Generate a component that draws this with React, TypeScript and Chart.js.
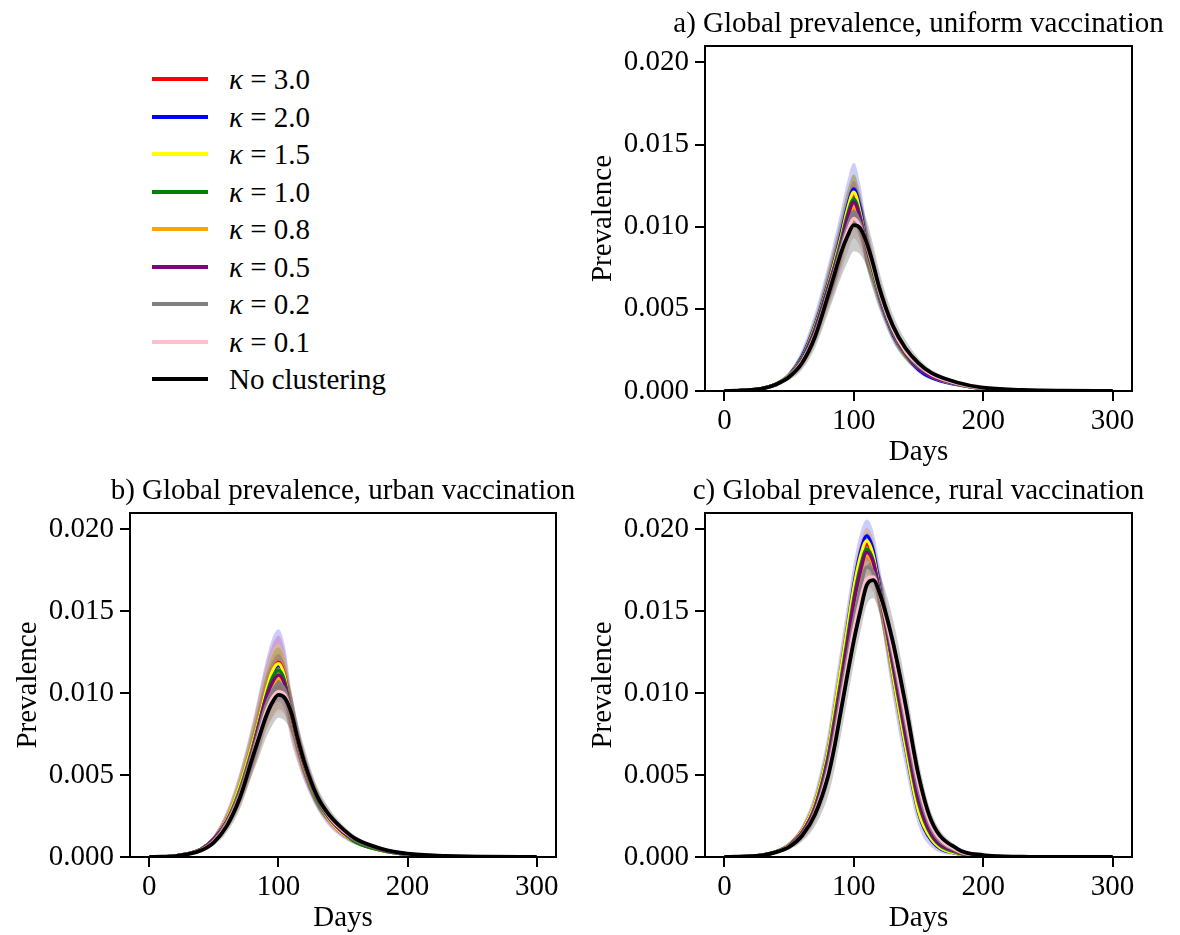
import React, { useEffect, useRef } from "react";
import { Chart, registerables } from "chart.js";

Chart.register(...registerables);

// ---------- data ----------
const DAYS = [0, 10, 20, 30, 40, 50, 60, 70, 80, 85, 90, 95, 100, 105, 110, 115, 120, 130, 140, 150, 160, 180, 200, 230, 260, 300];
const X_TICKS = [0, 100, 200, 300];
const Y_TICKS = [0, 0.005, 0.01, 0.015, 0.02];
const LEGEND_LABELS = ["κ = 3.0", "κ = 2.0", "κ = 1.5", "κ = 1.0", "κ = 0.8", "κ = 0.5", "κ = 0.2", "κ = 0.1", "No clustering"];
const SERIES_COLORS = ["#ff0000", "#0000ff", "#ffff00", "#008000", "#ffa500", "#800080", "#808080", "#ffc0cb", "#000000"];
const BAND_COLORS = [
  "rgba(255,0,0,0.2)", "rgba(0,0,255,0.2)", "rgba(255,255,0,0.2)", "rgba(0,128,0,0.2)", "rgba(255,165,0,0.2)",
  "rgba(128,0,128,0.2)", "rgba(128,128,128,0.2)", "rgba(255,192,203,0.2)", "rgba(0,0,0,0.2)",
];
const PANEL_TITLES = [
  "a) Global prevalence, uniform vaccination",
  "b) Global prevalence, urban vaccination",
  "c) Global prevalence, rural vaccination",
];

// Panel a – uniform vaccination (means)
const A_RED = [0.00001, 0.00002, 0.00006, 0.00017, 0.00042, 0.00095, 0.002, 0.0038, 0.0063, 0.0077, 0.0092, 0.0108, 0.0118, 0.0107, 0.0087, 0.0072, 0.0058, 0.0036, 0.0022, 0.0014, 0.0009, 0.0004, 0.00015, 0.00004, 0.00001, 0];
const A_BLUE = [0.00001, 0.00002, 0.00006, 0.00017, 0.00043, 0.00098, 0.0021, 0.004, 0.0065, 0.0079, 0.0095, 0.0112, 0.0123, 0.0111, 0.0088, 0.0071, 0.0057, 0.0035, 0.0022, 0.0013, 0.0008, 0.00038, 0.00014, 0.00004, 0.00001, 0];
const A_YELLOW = [0.00001, 0.00002, 0.00006, 0.00017, 0.00043, 0.00097, 0.002, 0.0039, 0.0064, 0.0078, 0.0093, 0.011, 0.0121, 0.0108, 0.0087, 0.0071, 0.0058, 0.0036, 0.0022, 0.0014, 0.0009, 0.0004, 0.00015, 0.00004, 0.00001, 0];
const A_GREEN = [0.00001, 0.00002, 0.00006, 0.00017, 0.00042, 0.00094, 0.002, 0.0038, 0.0063, 0.0076, 0.0091, 0.0107, 0.0117, 0.0106, 0.0087, 0.0072, 0.0058, 0.0036, 0.0022, 0.0014, 0.0009, 0.0004, 0.00015, 0.00004, 0.00001, 0];
const A_ORANGE = [0.00001, 0.00002, 0.00006, 0.00016, 0.00041, 0.0009, 0.0019, 0.0036, 0.0061, 0.0074, 0.0088, 0.0103, 0.0112, 0.0104, 0.0088, 0.0074, 0.0059, 0.0037, 0.0023, 0.0015, 0.0009, 0.00043, 0.00016, 0.00005, 0.00001, 0];
const A_PURPLE = [0.00001, 0.00002, 0.00006, 0.00016, 0.00041, 0.00092, 0.0019, 0.0037, 0.0062, 0.0075, 0.0089, 0.0105, 0.0115, 0.0105, 0.0087, 0.0073, 0.0059, 0.0037, 0.0023, 0.0014, 0.0009, 0.00042, 0.00016, 0.00005, 0.00001, 0];
const A_GRAY = [0.00001, 0.00002, 0.00006, 0.00016, 0.0004, 0.0009, 0.0018, 0.0035, 0.006, 0.0073, 0.0087, 0.01, 0.0109, 0.0102, 0.0088, 0.0074, 0.006, 0.0038, 0.0024, 0.0015, 0.001, 0.00045, 0.00017, 0.00005, 0.00001, 0];
const A_PINK = [0.00001, 0.00002, 0.00006, 0.00016, 0.0004, 0.00088, 0.0018, 0.0034, 0.0059, 0.0072, 0.0085, 0.0097, 0.0105, 0.01, 0.0089, 0.0075, 0.006, 0.0038, 0.0024, 0.0016, 0.001, 0.00046, 0.00018, 0.00006, 0.00002, 0];
const A_BLACK = [0.00001, 0.00002, 0.00006, 0.00016, 0.0004, 0.00085, 0.0017, 0.0033, 0.0058, 0.0071, 0.0084, 0.0094, 0.0101, 0.0099, 0.009, 0.0077, 0.0062, 0.004, 0.0026, 0.0017, 0.0011, 0.00052, 0.0002, 0.00007, 0.00002, 0];

// Panel a – band half-widths
const A_RED_SD = [0, 0, 0.00001, 0.00003, 0.00008, 0.00017, 0.0004, 0.0007, 0.001, 0.0012, 0.0013, 0.0014, 0.0014, 0.0013, 0.0011, 0.0009, 0.0007, 0.0005, 0.0003, 0.0002, 0.00012, 0.00006, 0.00002, 0.00001, 0, 0];
const A_BLUE_SD = [0, 0, 0.00001, 0.00003, 0.00009, 0.0002, 0.00045, 0.0008, 0.0012, 0.0014, 0.0015, 0.0016, 0.0016, 0.0015, 0.0013, 0.001, 0.0008, 0.0005, 0.0003, 0.0002, 0.00012, 0.00006, 0.00002, 0.00001, 0, 0];
const A_YELLOW_SD = [0, 0, 0.00001, 0.00002, 0.00006, 0.00014, 0.0003, 0.0006, 0.0008, 0.001, 0.0011, 0.0012, 0.0012, 0.0011, 0.001, 0.0008, 0.0006, 0.0004, 0.00025, 0.00015, 0.0001, 0.00005, 0.00002, 0.00001, 0, 0];
const A_GREEN_SD = [0, 0, 0.00001, 0.00003, 0.00008, 0.00018, 0.0004, 0.0007, 0.0011, 0.0013, 0.0014, 0.0015, 0.0015, 0.0014, 0.0012, 0.001, 0.0008, 0.0005, 0.0003, 0.0002, 0.00012, 0.00006, 0.00002, 0.00001, 0, 0];
const A_ORANGE_SD = [0, 0, 0.00001, 0.00003, 0.00008, 0.00017, 0.0004, 0.0007, 0.001, 0.0012, 0.0013, 0.0014, 0.0014, 0.0013, 0.0011, 0.0009, 0.0007, 0.0005, 0.0003, 0.0002, 0.00012, 0.00006, 0.00002, 0.00001, 0, 0];
const A_PURPLE_SD = [0, 0, 0.00001, 0.00003, 0.00007, 0.00016, 0.00035, 0.0006, 0.0009, 0.0011, 0.0012, 0.0013, 0.0013, 0.0012, 0.001, 0.0008, 0.0007, 0.0005, 0.0003, 0.0002, 0.00012, 0.00006, 0.00002, 0.00001, 0, 0];
const A_GRAY_SD = [0, 0, 0.00001, 0.00003, 0.00008, 0.00018, 0.0004, 0.0007, 0.0011, 0.0013, 0.0015, 0.0016, 0.0016, 0.0015, 0.0013, 0.0011, 0.0009, 0.0006, 0.0004, 0.00025, 0.00015, 0.00007, 0.00003, 0.00001, 0, 0];
const A_PINK_SD = [0, 0, 0.00001, 0.00002, 0.00006, 0.00014, 0.0003, 0.0006, 0.0009, 0.001, 0.0011, 0.0012, 0.0012, 0.0011, 0.001, 0.0009, 0.0007, 0.0005, 0.0003, 0.0002, 0.00012, 0.00006, 0.00002, 0.00001, 0, 0];
const A_BLACK_SD = [0, 0, 0.00001, 0.00003, 0.00008, 0.00018, 0.0004, 0.0007, 0.0011, 0.0013, 0.0015, 0.0016, 0.0016, 0.0016, 0.0014, 0.0012, 0.001, 0.0007, 0.0005, 0.0003, 0.0002, 0.00008, 0.00003, 0.00001, 0, 0];

// Panel b – urban vaccination (means)
const B_RED = [0.00001, 0.00002, 0.00007, 0.0002, 0.00048, 0.0011, 0.0023, 0.0042, 0.0068, 0.0084, 0.01, 0.0113, 0.0119, 0.011, 0.0086, 0.0069, 0.0055, 0.0035, 0.0022, 0.0014, 0.0009, 0.0004, 0.00015, 0.00004, 0.00001, 0];
const B_BLUE = [0.00001, 0.00002, 0.00007, 0.0002, 0.00048, 0.0011, 0.0023, 0.0042, 0.0068, 0.0083, 0.0099, 0.0112, 0.0117, 0.0109, 0.0086, 0.0069, 0.0055, 0.0035, 0.0022, 0.0014, 0.0009, 0.0004, 0.00015, 0.00004, 0.00001, 0];
const B_YELLOW = [0.00001, 0.00002, 0.00007, 0.0002, 0.00049, 0.0011, 0.0023, 0.0043, 0.0069, 0.0084, 0.01, 0.0113, 0.0118, 0.0109, 0.0086, 0.0069, 0.0055, 0.0035, 0.0022, 0.0014, 0.0009, 0.0004, 0.00015, 0.00004, 0.00001, 0];
const B_GREEN = [0.00001, 0.00002, 0.00007, 0.0002, 0.00047, 0.0011, 0.0022, 0.0041, 0.0067, 0.0082, 0.0097, 0.0109, 0.0114, 0.0107, 0.0087, 0.007, 0.0056, 0.0035, 0.0023, 0.0015, 0.0009, 0.0004, 0.00016, 0.00005, 0.00001, 0];
const B_ORANGE = [0.00001, 0.00002, 0.00007, 0.0002, 0.00046, 0.0011, 0.0022, 0.004, 0.0066, 0.008, 0.0094, 0.0104, 0.0109, 0.0104, 0.0087, 0.007, 0.0056, 0.0036, 0.0023, 0.0015, 0.001, 0.00045, 0.00017, 0.00005, 0.00001, 0];
const B_PURPLE = [0.00001, 0.00002, 0.00007, 0.0002, 0.00046, 0.0011, 0.0022, 0.004, 0.0066, 0.0081, 0.0096, 0.0106, 0.0111, 0.0105, 0.0087, 0.007, 0.0056, 0.0036, 0.0023, 0.0015, 0.001, 0.00045, 0.00017, 0.00005, 0.00001, 0];
const B_GRAY = [0.00001, 0.00002, 0.00006, 0.00019, 0.00044, 0.001, 0.0021, 0.0039, 0.0064, 0.0078, 0.0092, 0.0101, 0.0106, 0.0102, 0.0088, 0.0071, 0.0057, 0.0036, 0.0024, 0.0016, 0.001, 0.00047, 0.00018, 0.00006, 0.00001, 0];
const B_PINK = [0.00001, 0.00002, 0.00006, 0.00019, 0.00042, 0.00095, 0.002, 0.0037, 0.0062, 0.0075, 0.0088, 0.0097, 0.0101, 0.0099, 0.0088, 0.0072, 0.0058, 0.0037, 0.0024, 0.0016, 0.0011, 0.00049, 0.00019, 0.00006, 0.00002, 0];
const B_BLACK = [0.00001, 0.00002, 0.00006, 0.00018, 0.0004, 0.0009, 0.0019, 0.0036, 0.0061, 0.0073, 0.0085, 0.0094, 0.0099, 0.0097, 0.0088, 0.0072, 0.0058, 0.0037, 0.0025, 0.0017, 0.0011, 0.0005, 0.0002, 0.00007, 0.00002, 0];

// Panel b – band half-widths
const B_RED_SD = [0, 0, 0.00001, 0.00004, 0.0001, 0.00022, 0.0005, 0.0009, 0.0013, 0.0015, 0.0016, 0.0016, 0.0016, 0.0015, 0.0013, 0.001, 0.0008, 0.0005, 0.0003, 0.0002, 0.00012, 0.00006, 0.00002, 0.00001, 0, 0];
const B_BLUE_SD = [0, 0, 0.00001, 0.00004, 0.00011, 0.00025, 0.00055, 0.001, 0.0015, 0.0018, 0.002, 0.0021, 0.0022, 0.002, 0.0016, 0.0012, 0.0009, 0.0006, 0.0004, 0.00025, 0.00015, 0.00007, 0.00003, 0.00001, 0, 0];
const B_YELLOW_SD = [0, 0, 0.00001, 0.00003, 0.00008, 0.00017, 0.0004, 0.0007, 0.001, 0.0011, 0.0012, 0.0012, 0.0012, 0.0011, 0.001, 0.0008, 0.0006, 0.0004, 0.00025, 0.00015, 0.0001, 0.00005, 0.00002, 0.00001, 0, 0];
const B_GREEN_SD = [0, 0, 0.00001, 0.00004, 0.0001, 0.0002, 0.00045, 0.0008, 0.0012, 0.0013, 0.0014, 0.0014, 0.0014, 0.0013, 0.0011, 0.0009, 0.0007, 0.0005, 0.0003, 0.0002, 0.00012, 0.00006, 0.00002, 0.00001, 0, 0];
const B_ORANGE_SD = [0, 0, 0.00001, 0.00004, 0.00011, 0.00024, 0.00055, 0.001, 0.0015, 0.0017, 0.0018, 0.0019, 0.0019, 0.0017, 0.0014, 0.0011, 0.0008, 0.0005, 0.0003, 0.0002, 0.00012, 0.00006, 0.00002, 0.00001, 0, 0];
const B_PURPLE_SD = [0, 0, 0.00001, 0.00003, 0.00008, 0.00018, 0.0004, 0.0007, 0.001, 0.0012, 0.0013, 0.0013, 0.0013, 0.0012, 0.001, 0.0008, 0.0007, 0.0005, 0.0003, 0.0002, 0.00012, 0.00006, 0.00002, 0.00001, 0, 0];
const B_GRAY_SD = [0, 0, 0.00001, 0.00004, 0.0001, 0.0002, 0.00045, 0.0008, 0.0012, 0.0014, 0.0015, 0.0016, 0.0016, 0.0015, 0.0013, 0.001, 0.0008, 0.0006, 0.0004, 0.00025, 0.00015, 0.00007, 0.00003, 0.00001, 0, 0];
const B_PINK_SD = [0, 0, 0.00001, 0.00003, 0.00008, 0.00018, 0.0004, 0.0007, 0.001, 0.0011, 0.0012, 0.0013, 0.0013, 0.0012, 0.0011, 0.0009, 0.0007, 0.0005, 0.0003, 0.0002, 0.00012, 0.00006, 0.00002, 0.00001, 0, 0];
const B_BLACK_SD = [0, 0, 0.00001, 0.00003, 0.00008, 0.00018, 0.0004, 0.0007, 0.001, 0.0012, 0.0013, 0.0014, 0.0014, 0.0014, 0.0012, 0.001, 0.0009, 0.0006, 0.0004, 0.00025, 0.00015, 0.00007, 0.00003, 0.00001, 0, 0];

// Panel c – rural vaccination (means)
const C_RED = [0.00001, 0.00002, 0.00005, 0.00013, 0.00032, 0.00074, 0.0016, 0.0032, 0.0063, 0.0087, 0.0112, 0.0137, 0.0162, 0.0181, 0.0191, 0.0183, 0.0162, 0.0115, 0.007, 0.003, 0.0012, 0.00023, 0.00005, 0.00001, 0, 0];
const C_BLUE = [0.00001, 0.00002, 0.00005, 0.00013, 0.00032, 0.00075, 0.0016, 0.0033, 0.0064, 0.0089, 0.0114, 0.014, 0.0166, 0.0186, 0.0196, 0.0187, 0.0164, 0.0113, 0.0067, 0.0027, 0.001, 0.0002, 0.00005, 0.00001, 0, 0];
const C_YELLOW = [0.00001, 0.00002, 0.00005, 0.00013, 0.00032, 0.00075, 0.0016, 0.0033, 0.0064, 0.0089, 0.0114, 0.0139, 0.0164, 0.0183, 0.0193, 0.0184, 0.0162, 0.0113, 0.0068, 0.0028, 0.0011, 0.0002, 0.00005, 0.00001, 0, 0];
const C_GREEN = [0.00001, 0.00002, 0.00005, 0.00013, 0.00032, 0.00072, 0.0015, 0.0031, 0.0061, 0.0084, 0.0108, 0.0133, 0.0158, 0.0177, 0.0188, 0.0181, 0.0161, 0.0117, 0.0073, 0.0033, 0.0013, 0.00025, 0.00006, 0.00001, 0, 0];
const C_ORANGE = [0.00001, 0.00002, 0.00005, 0.00013, 0.00031, 0.0007, 0.0015, 0.003, 0.0058, 0.008, 0.0104, 0.0128, 0.0152, 0.0172, 0.0184, 0.0178, 0.016, 0.012, 0.0077, 0.0037, 0.0015, 0.0003, 0.00007, 0.00001, 0, 0];
const C_PURPLE = [0.00001, 0.00002, 0.00005, 0.00013, 0.00031, 0.0007, 0.0015, 0.003, 0.0059, 0.0081, 0.0105, 0.013, 0.0155, 0.0174, 0.0186, 0.018, 0.0161, 0.0119, 0.0075, 0.0035, 0.0014, 0.0003, 0.00007, 0.00001, 0, 0];
const C_GRAY = [0.00001, 0.00002, 0.00005, 0.00013, 0.0003, 0.00068, 0.0014, 0.0028, 0.0055, 0.0075, 0.0099, 0.0122, 0.0145, 0.0164, 0.0177, 0.0174, 0.016, 0.0124, 0.0082, 0.0041, 0.0017, 0.00035, 0.00008, 0.00001, 0, 0];
const C_PINK = [0.00001, 0.00002, 0.00005, 0.00013, 0.0003, 0.00065, 0.0013, 0.0027, 0.0052, 0.0071, 0.0094, 0.0117, 0.0139, 0.0157, 0.017, 0.0171, 0.016, 0.0127, 0.0086, 0.0045, 0.0019, 0.0004, 0.0001, 0.00002, 0, 0];
const C_BLACK = [0.00001, 0.00002, 0.00005, 0.00012, 0.0003, 0.00062, 0.0013, 0.0026, 0.0049, 0.0067, 0.0089, 0.0111, 0.0132, 0.015, 0.0166, 0.0169, 0.0161, 0.0132, 0.0093, 0.005, 0.0022, 0.0005, 0.00012, 0.00002, 0, 0];

// Panel c – band half-widths
const C_RED_SD = [0, 0, 0.00001, 0.00003, 0.00007, 0.00015, 0.0003, 0.0006, 0.001, 0.0012, 0.0013, 0.0013, 0.0012, 0.0011, 0.001, 0.0011, 0.0012, 0.0013, 0.0011, 0.0007, 0.0003, 0.0001, 0.00003, 0.00001, 0, 0];
const C_BLUE_SD = [0, 0, 0.00001, 0.00003, 0.00008, 0.00017, 0.00035, 0.0007, 0.0012, 0.0014, 0.0015, 0.0015, 0.0014, 0.0012, 0.001, 0.0012, 0.0014, 0.0015, 0.0013, 0.0008, 0.0004, 0.0001, 0.00003, 0.00001, 0, 0];
const C_YELLOW_SD = [0, 0, 0.00001, 0.00002, 0.00006, 0.00013, 0.00028, 0.0005, 0.0009, 0.001, 0.0011, 0.0011, 0.001, 0.0009, 0.0008, 0.0009, 0.001, 0.0011, 0.0009, 0.0006, 0.0003, 0.0001, 0.00003, 0.00001, 0, 0];
const C_GREEN_SD = [0, 0, 0.00001, 0.00003, 0.00007, 0.00015, 0.0003, 0.0006, 0.001, 0.0012, 0.0013, 0.0013, 0.0012, 0.0011, 0.001, 0.0011, 0.0012, 0.0013, 0.0011, 0.0007, 0.0003, 0.0001, 0.00003, 0.00001, 0, 0];
const C_ORANGE_SD = [0, 0, 0.00001, 0.00003, 0.00007, 0.00016, 0.00032, 0.0006, 0.0011, 0.0013, 0.0014, 0.0014, 0.0013, 0.0012, 0.0011, 0.0011, 0.0012, 0.0013, 0.0011, 0.0007, 0.0003, 0.0001, 0.00003, 0.00001, 0, 0];
const C_PURPLE_SD = [0, 0, 0.00001, 0.00003, 0.00007, 0.00015, 0.0003, 0.0006, 0.001, 0.0012, 0.0013, 0.0013, 0.0012, 0.0011, 0.001, 0.0011, 0.0012, 0.0013, 0.0011, 0.0007, 0.0003, 0.0001, 0.00003, 0.00001, 0, 0];
const C_GRAY_SD = [0, 0, 0.00001, 0.00003, 0.00008, 0.00017, 0.00035, 0.0007, 0.0012, 0.0014, 0.0015, 0.0015, 0.0014, 0.0013, 0.0012, 0.0012, 0.0013, 0.0014, 0.0012, 0.0008, 0.0004, 0.0001, 0.00003, 0.00001, 0, 0];
const C_PINK_SD = [0, 0, 0.00001, 0.00002, 0.00006, 0.00013, 0.00028, 0.0005, 0.0009, 0.001, 0.0011, 0.0011, 0.001, 0.001, 0.0009, 0.0009, 0.001, 0.0011, 0.001, 0.0007, 0.0003, 0.0001, 0.00003, 0.00001, 0, 0];
const C_BLACK_SD = [0, 0, 0.00001, 0.00003, 0.00008, 0.00017, 0.00035, 0.0007, 0.0012, 0.0014, 0.0015, 0.0015, 0.0014, 0.0013, 0.0012, 0.0011, 0.0012, 0.0014, 0.0013, 0.0009, 0.0005, 0.00015, 0.00004, 0.00001, 0, 0];

// ---------- layout ----------
const FONT_FAMILY = "'Liberation Serif', 'Times New Roman', serif";
const FONT_SIZE = 29;

type PanelCfg = {
  title: string;
  means: number[][];
  spreads: number[][];
  left: number;
  top: number;
  width: number;
  height: number;
  padRight: number;
};

const PANELS: PanelCfg[] = [
  {
    title: PANEL_TITLES[0],
    means: [A_RED, A_BLUE, A_YELLOW, A_GREEN, A_ORANGE, A_PURPLE, A_GRAY, A_PINK, A_BLACK],
    spreads: [A_RED_SD, A_BLUE_SD, A_YELLOW_SD, A_GREEN_SD, A_ORANGE_SD, A_PURPLE_SD, A_GRAY_SD, A_PINK_SD, A_BLACK_SD],
    left: 580, top: 0, width: 600, height: 470, padRight: 48,
  },
  {
    title: PANEL_TITLES[1],
    means: [B_RED, B_BLUE, B_YELLOW, B_GREEN, B_ORANGE, B_PURPLE, B_GRAY, B_PINK, B_BLACK],
    spreads: [B_RED_SD, B_BLUE_SD, B_YELLOW_SD, B_GREEN_SD, B_ORANGE_SD, B_PURPLE_SD, B_GRAY_SD, B_PINK_SD, B_BLACK_SD],
    left: 5, top: 467, width: 600, height: 469, padRight: 49,
  },
  {
    title: PANEL_TITLES[2],
    means: [C_RED, C_BLUE, C_YELLOW, C_GREEN, C_ORANGE, C_PURPLE, C_GRAY, C_PINK, C_BLACK],
    spreads: [C_RED_SD, C_BLUE_SD, C_YELLOW_SD, C_GREEN_SD, C_ORANGE_SD, C_PURPLE_SD, C_GRAY_SD, C_PINK_SD, C_BLACK_SD],
    left: 580, top: 467, width: 600, height: 469, padRight: 48,
  },
];

const frameTitlePlugin = {
  id: "frameTitle",
  afterDraw(chart: any, _args: any, opts: any) {
    const { ctx, chartArea } = chart;
    const { left, top, right, bottom } = chartArea;
    ctx.save();
    ctx.strokeStyle = "#000";
    ctx.lineWidth = 2;
    ctx.strokeRect(left, top, right - left, bottom - top);
    ctx.fillStyle = "#000";
    ctx.font = `${FONT_SIZE}px ${FONT_FAMILY}`;
    ctx.textAlign = "center";
    ctx.textBaseline = "alphabetic";
    ctx.fillText(opts.text, (left + right) / 2, top - 14.3);
    ctx.restore();
  },
};

function Panel({ cfg }: { cfg: PanelCfg }) {
  const ref = useRef<HTMLCanvasElement>(null);
  useEffect(() => {
    if (!ref.current) return;
    const datasets: any[] = [];
    cfg.means.forEach((mean, i) => {
      const sd = cfg.spreads[i];
      datasets.push({
        label: `${LEGEND_LABELS[i]} upper`,
        data: DAYS.map((d, j) => ({ x: d, y: mean[j] + sd[j] })),
        borderWidth: 0,
        borderColor: "rgba(0,0,0,0)",
        backgroundColor: BAND_COLORS[i],
        pointRadius: 0,
        fill: "+1",
        cubicInterpolationMode: "monotone",
        order: 30 - i,
      });
      datasets.push({
        label: `${LEGEND_LABELS[i]} lower`,
        data: DAYS.map((d, j) => ({ x: d, y: Math.max(0, mean[j] - sd[j]) })),
        borderWidth: 0,
        borderColor: "rgba(0,0,0,0)",
        pointRadius: 0,
        fill: false,
        cubicInterpolationMode: "monotone",
        order: 30 - i,
      });
    });
    cfg.means.forEach((mean, i) => {
      datasets.push({
        label: LEGEND_LABELS[i],
        data: DAYS.map((d, j) => ({ x: d, y: mean[j] })),
        borderColor: SERIES_COLORS[i],
        borderWidth: i === 8 ? 3.8 : 3.3,
        pointRadius: 0,
        fill: false,
        cubicInterpolationMode: "monotone",
        order: 9 - i,
      });
    });

    const font = { family: FONT_FAMILY, size: FONT_SIZE, weight: "normal" as const };
    const grid = { display: true, drawOnChartArea: false, drawTicks: true, tickLength: 10, color: "#000", lineWidth: 2 };
    const border = { display: true, color: "#000", width: 2 };

    const chart = new Chart(ref.current, {
      type: "line",
      data: { datasets },
      options: {
        responsive: false,
        animation: false,
        devicePixelRatio: 1,
        events: [],
        layout: { padding: { top: 46, left: 0, right: cfg.padRight, bottom: 0 } },
        plugins: {
          legend: { display: false },
          tooltip: { enabled: false },
          title: { display: false },
          frameTitle: { text: cfg.title },
        } as any,
        scales: {
          x: {
            type: "linear",
            min: -15,
            max: 315,
            afterBuildTicks: (s: any) => { s.ticks = X_TICKS.map((v) => ({ value: v })); },
            afterFit: (s: any) => { s.height = 79; },
            ticks: { font, color: "#000", padding: 3, maxRotation: 0, autoSkip: false, callback: (v: any) => String(v) },
            grid,
            border,
            title: { display: true, text: "Days", font, color: "#000", padding: { top: 0, bottom: 0 } },
          },
          y: {
            type: "linear",
            min: 0,
            max: 0.021,
            afterBuildTicks: (s: any) => { s.ticks = Y_TICKS.map((v) => ({ value: v })); },
            afterFit: (s: any) => { s.width = 125; },
            ticks: { font, color: "#000", padding: 6, autoSkip: false, callback: (v: any) => Number(v).toFixed(3) },
            grid,
            border,
            title: { display: true, text: "Prevalence", font, color: "#000", padding: { top: 6, bottom: 0 } },
          },
        },
      } as any,
      plugins: [frameTitlePlugin],
    });
    return () => chart.destroy();
  }, [cfg]);
  return (
    <canvas
      ref={ref}
      width={cfg.width}
      height={cfg.height}
      style={{ position: "absolute", left: cfg.left, top: cfg.top, width: cfg.width, height: cfg.height }}
    />
  );
}

const LEG_Y0 = 79.3;
const LEG_DY = 37.5;

function Legend() {
  return (
    <div style={{ position: "absolute", left: 0, top: 0 }}>
      {LEGEND_LABELS.map((lab, i) => {
        const yc = LEG_Y0 + i * LEG_DY;
        const isKappa = lab.startsWith("κ");
        return (
          <React.Fragment key={lab}>
            <div style={{ position: "absolute", left: 152, top: yc - 2, width: 56, height: 4, background: SERIES_COLORS[i] }} />
            <div
              style={{
                position: "absolute",
                left: 229,
                top: yc + 10 - 26.3,
                fontFamily: FONT_FAMILY,
                fontSize: FONT_SIZE,
                lineHeight: "33px",
                whiteSpace: "nowrap",
                color: "#000",
              }}
            >
              {isKappa ? (
                <>
                  <i>κ</i>
                  {lab.slice(1)}
                </>
              ) : (
                lab
              )}
            </div>
          </React.Fragment>
        );
      })}
    </div>
  );
}

export default function App() {
  return (
    <div style={{ position: "fixed", left: 0, top: 0, width: 1180, height: 935, overflow: "hidden", background: "#fff" }}>
      <Legend />
      {PANELS.map((p) => (
        <Panel key={p.title} cfg={p} />
      ))}
    </div>
  );
}
